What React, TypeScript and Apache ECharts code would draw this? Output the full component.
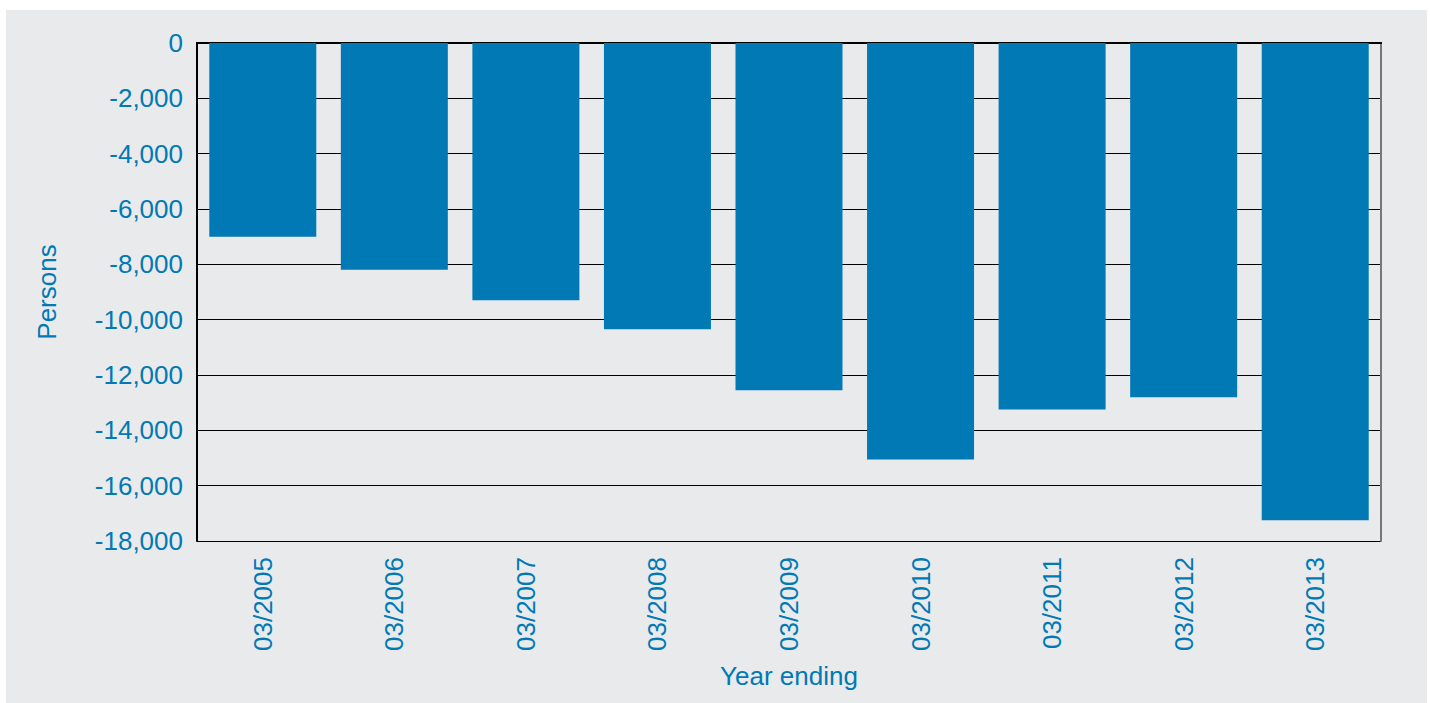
import React, { useEffect, useRef } from "react";
import * as echarts from "echarts";

const categories = ["03/2005", "03/2006", "03/2007", "03/2008", "03/2009", "03/2010", "03/2011", "03/2012", "03/2013"];
const values = [-7000, -8200, -9300, -10350, -12550, -15050, -13250, -12800, -17250];
const yMin = -18000;
const yMax = 0;
const yInterval = 2000;

const BLUE = "#0079B4";
const FONT = "'Liberation Sans', Arial, sans-serif";

export default function App() {
  const ref = useRef<HTMLDivElement>(null);
  useEffect(() => {
    if (!ref.current) return;
    const chart = echarts.init(ref.current, null, { renderer: "svg" });
    chart.setOption({
      animation: false,
      backgroundColor: "#ffffff",
      textStyle: { fontFamily: FONT },
      graphic: [
        {
          type: "rect",
          z: -10,
          silent: true,
          shape: { x: 6, y: 10, width: 1421, height: 693 },
          style: { fill: "#E9EAEC" },
        },
      ],
      grid: { left: 197, top: 43, width: 1184, height: 498, containLabel: false },
      xAxis: [
        {
          type: "category",
          data: categories,
          position: "bottom",
          axisLine: { show: true, lineStyle: { color: "#000", width: 2 } },
          axisTick: { show: false },
          axisLabel: {
            rotate: 90,
            margin: 16,
            color: BLUE,
            fontSize: 26,
            fontFamily: FONT,
          },
          name: "Year ending",
          nameLocation: "middle",
          nameGap: 122,
          nameTextStyle: { color: BLUE, fontSize: 26, fontFamily: FONT },
        },
        {
          type: "category",
          data: categories,
          position: "top",
          axisLine: { show: true, lineStyle: { color: "#000", width: 2 } },
          axisTick: { show: false },
          axisLabel: { show: false },
        },
      ],
      yAxis: [
        {
          type: "value",
          min: yMin,
          max: yMax,
          interval: yInterval,
          position: "left",
          axisLine: { show: true, lineStyle: { color: "#000", width: 2 } },
          axisTick: { show: false },
          splitLine: { show: true, lineStyle: { color: "#000", width: 1 } },
          axisLabel: {
            margin: 14,
            color: BLUE,
            fontSize: 26,
            fontFamily: FONT,
            formatter: (v: number) => v.toLocaleString("en-US"),
          },
          name: "Persons",
          nameLocation: "middle",
          nameGap: 137,
          nameTextStyle: { color: BLUE, fontSize: 26, fontFamily: FONT },
        },
        {
          type: "value",
          min: yMin,
          max: yMax,
          interval: yInterval,
          position: "right",
          axisLine: { show: true, lineStyle: { color: "#777", width: 2 } },
          axisTick: { show: false },
          splitLine: { show: false },
          axisLabel: { show: false },
        },
      ],
      series: [
        {
          type: "bar",
          data: values,
          barWidth: 107,
          itemStyle: { color: BLUE },
          z: 3,
        },
      ],
    });
    return () => chart.dispose();
  }, []);
  return (
    <div
      ref={ref}
      style={{ position: "absolute", left: 0, top: 0, width: 1430, height: 703 }}
    />
  );
}
